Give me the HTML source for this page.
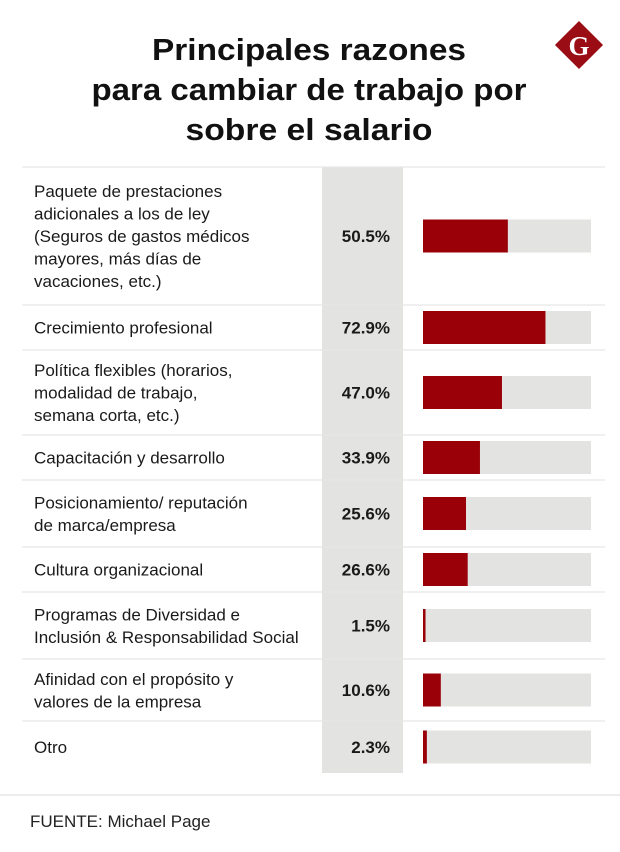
<!DOCTYPE html>
<html><head><meta charset="utf-8">
<style>
html,body{margin:0;padding:0;background:#fff;}
svg{display:block;font-family:"Liberation Sans",sans-serif;}
</style></head>
<body>
<svg id="chart" width="620" height="852" viewBox="0 0 620 852">
  <g font-weight="bold" font-size="31" fill="#111" text-anchor="middle">
    <text x="309" y="60" textLength="314" lengthAdjust="spacingAndGlyphs">Principales razones</text>
    <text x="309" y="100" textLength="435" lengthAdjust="spacingAndGlyphs">para cambiar de trabajo por</text>
    <text x="309" y="140" textLength="247" lengthAdjust="spacingAndGlyphs">sobre el salario</text>
  </g>
  <g>
    <rect x="562" y="28" width="34" height="34" fill="#9b0d14" transform="rotate(45 579 45)"/>
    <text x="579" y="55" text-anchor="middle" font-family="Liberation Serif,serif" font-weight="bold" font-size="27" fill="#fff">G</text>
  </g>
  <rect x="322" y="167" width="81" height="606" fill="#e3e3e1"/>
  <g id="rows"></g>
  <line x1="0" y1="795" x2="620" y2="795" stroke="#d8d8d8" stroke-width="1"/>
  <text x="30" y="827" font-size="17" fill="#222">FUENTE: Michael Page</text>
</svg>
<script>
const categories = [
  ["Paquete de prestaciones","adicionales a los de ley","(Seguros de gastos médicos","mayores, más días de","vacaciones, etc.)"],
  ["Crecimiento profesional"],
  ["Política flexibles (horarios,","modalidad de trabajo,","semana corta, etc.)"],
  ["Capacitación y desarrollo"],
  ["Posicionamiento/ reputación","de marca/empresa"],
  ["Cultura organizacional"],
  ["Programas de Diversidad e","Inclusión & Responsabilidad Social"],
  ["Afinidad con el propósito y","valores de la empresa"],
  ["Otro"]
];
const values = [50.5, 72.9, 47.0, 33.9, 25.6, 26.6, 1.5, 10.6, 2.3];
const valueLabels = ["50.5%","72.9%","47.0%","33.9%","25.6%","26.6%","1.5%","10.6%","2.3%"];

const NS = "http://www.w3.org/2000/svg";
const g = document.getElementById("rows");
const rowHeights = [138,45,85,45,67,45,67,62,52];
const lineH = 22.5, top0 = 167;
const trackX = 423, trackW = 168, barH = 33;
const xScale = v => v / 100 * trackW;
function mk(tag, attrs){const e=document.createElementNS(NS,tag);for(const k in attrs)e.setAttribute(k,attrs[k]);return e;}

let y = top0;
const sep0 = mk("line",{x1:22,y1:y,x2:605,y2:y,stroke:"#e6e6e6","stroke-width":1.2});


g.appendChild(sep0);
categories.forEach((lines,i)=>{
  const h = rowHeights[i] || 50;
  const cy = y + h/2;
  const row = mk("g",{});
  
  
  const startY = cy - (lines.length-1)*lineH/2 + 6;
  lines.forEach((t,j)=>{
    const tx = mk("text",{x:34,y:startY+j*lineH,"font-size":17,fill:"#1a1a1a"});
    tx.textContent = t;
    
    
    row.appendChild(tx);
  });
  const vt = mk("text",{x:390,y:cy+6,"font-size":17,"font-weight":"bold","text-anchor":"end",fill:"#1a1a1a"});
  vt.textContent = valueLabels[i];
  
  
  row.appendChild(vt);
  const track = mk("rect",{x:trackX,y:cy-barH/2,width:trackW,height:barH,fill:"#e3e3e1"});
  
  
  row.appendChild(track);
  const bar = mk("rect",{x:trackX,y:cy-barH/2,width:xScale(values[i]),height:barH,fill:"#990008"});
  
  
  row.appendChild(bar);
  g.appendChild(row);
  y += h;
  if(i<categories.length-1){
    const s = mk("line",{x1:22,y1:y,x2:605,y2:y,stroke:"#e6e6e6","stroke-width":1.2});
    
    
    g.appendChild(s);
  }
});
</script>
</body></html>
